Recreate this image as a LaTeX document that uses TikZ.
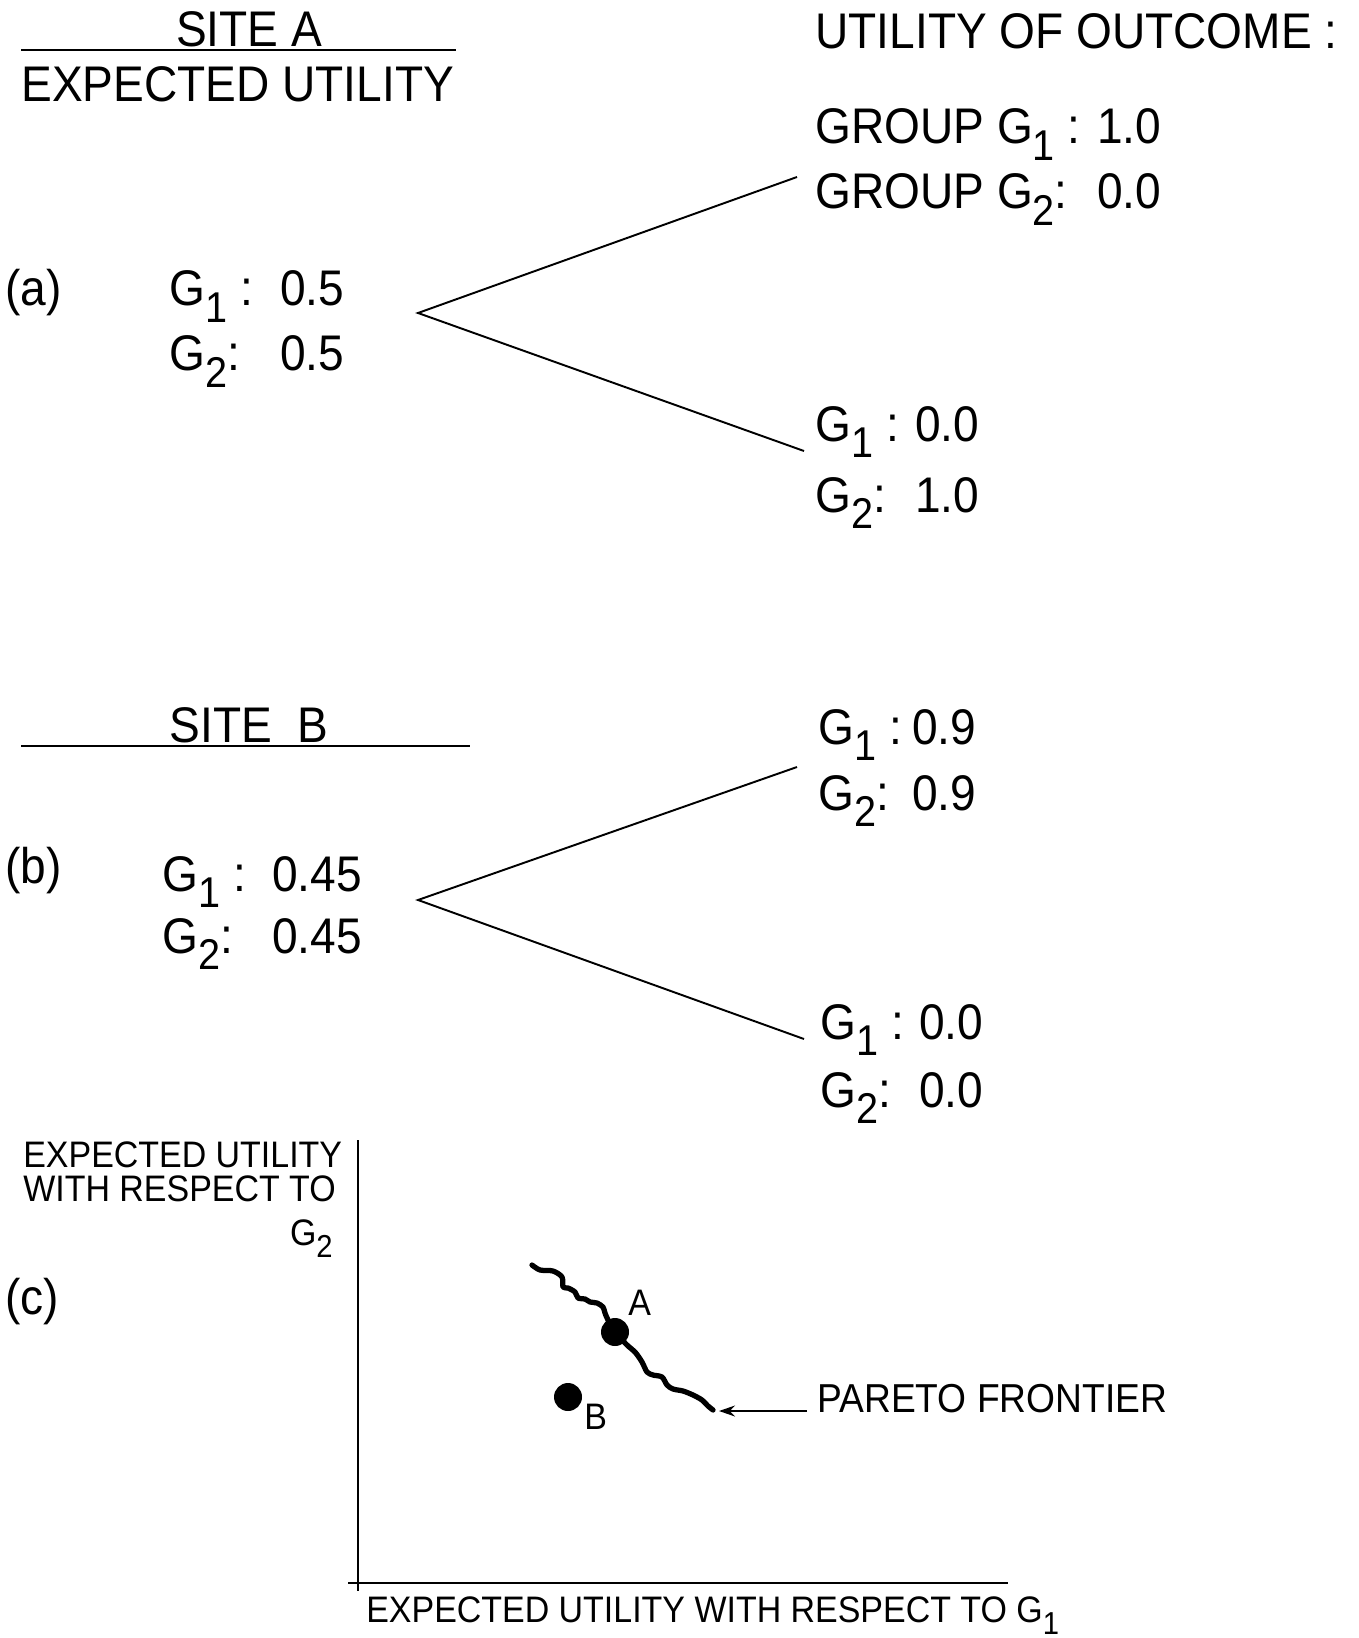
\documentclass[tikz,border=0pt]{standalone}
\usepackage{fontspec}
\setmainfont{Liberation Sans}[FakeStretch=0.92]
\usetikzlibrary{arrows.meta}
\newcommand{\grp}[1]{G\raisebox{-0.33em}{\scalebox{0.86}{#1}}}
\newcommand{\gcol}[3]{\makebox[#3][l]{\grp{#1}#2}}

\begin{document}
\begin{tikzpicture}[x=0.02cm,y=-0.02cm,
 big/.style={font=\fontsize{28.5}{34}\selectfont,anchor=base west,inner sep=0pt},
 small/.style={font=\fontsize{21}{25}\selectfont,anchor=base west,inner sep=0pt},
 mid/.style={font=\fontsize{23}{28}\selectfont,anchor=base west,inner sep=0pt},
 branch/.style={line width=1.1pt},
 rule/.style={line width=1.2pt},
 axis/.style={line width=1.6pt},
 frontier/.style={line width=3pt,line cap=round,line join=round},
 dot/.style={circle,fill=black,minimum size=0.56cm,inner sep=0pt}
]
\useasboundingbox (0,0) rectangle (1358,1638);

% site A
\node[big,anchor=base] (siteA) at (249,47) {SITE A};
\draw[rule] (21,50) -- (456,50);
\node[big] (euA) at (21,102) {EXPECTED UTILITY};
\node[big] (uo) at (815,49) {UTILITY OF OUTCOME :};
\node[big] (a) at (5,306) {(a)};
\node[big] (aG1) at (169,306) {\gcol{1}{\ :}{2.22cm}0.5};
\node[big] (aG2) at (169,371) {\gcol{2}{:}{2.22cm}0.5};
\node[big] (aUG1) at (815,144) {\makebox[5.64cm][l]{GROUP \grp{1}\ :}1.0};
\node[big] (aUG2) at (815,209) {\makebox[5.64cm][l]{GROUP \grp{2}:}0.0};
\node[big] (aLG1) at (815,441) {\gcol{1}{\ :}{2.0cm}0.0};
\node[big] (aLG2) at (815,512) {\gcol{2}{:}{2.0cm}1.0};

\coordinate (aroot) at (418,313);
\coordinate (aup) at (797,177);
\coordinate (adown) at (804,451);
\draw[branch] (aup) -- (aroot) -- (adown);

% site B
\node[big,anchor=base] (siteB) at (249,742) {SITE\ \ B};
\draw[rule] (21,746) -- (470,746);
\node[big] (b) at (5,883) {(b)};
\node[big] (bG1) at (162,891) {\gcol{1}{\ :}{2.2cm}0.45};
\node[big] (bG2) at (162,953) {\gcol{2}{:}{2.2cm}0.45};
\node[big] (bUG1) at (818,744) {\gcol{1}{\ :}{1.88cm}0.9};
\node[big] (bUG2) at (818,810) {\gcol{2}{:}{1.88cm}0.9};
\node[big] (bLG1) at (820,1039) {\gcol{1}{\ :}{1.98cm}0.0};
\node[big] (bLG2) at (820,1107) {\gcol{2}{:}{1.98cm}0.0};

\coordinate (broot) at (418,900);
\coordinate (bup) at (797,767);
\coordinate (bdown) at (804,1039);
\draw[branch] (bup) -- (broot) -- (bdown);

% (c) pareto plot
\node[big] (c) at (5,1314) {(c)};
\node[small] (ylab1) at (23,1167) {EXPECTED UTILITY};
\node[small] (ylab2) at (23,1201) {WITH RESPECT TO};
\node[small,anchor=base east] (ylab3) at (333,1245) {\grp{2}};
\node[small] (xlab) at (366,1622) {EXPECTED UTILITY WITH RESPECT TO \grp{1}};

\draw[axis] (358,1140) -- (358,1591);
\draw[axis] (348,1583) -- (1008,1583);

\draw[frontier] plot[smooth,tension=0.5] coordinates {(532,1265) (540,1270) (553,1271) (562,1277)
 (563,1287) (568,1288) (575,1292) (578,1298) (585,1299) (590,1302) (597,1303) (603,1307)
 (605,1313) (608,1320) (615,1332) (627,1345) (635,1352) (642,1362) (647,1372) (653,1375)
 (662,1377) (667,1385) (673,1389) (683,1391) (693,1395) (702,1400) (708,1406) (713,1410)};
\coordinate (fend) at (719,1411);

\node[dot] (ptA) at (615,1332) {};
\node[dot] (ptB) at (568,1397) {};
\node[small] (labA) at (628,1315) {A};
\node[small] (labB) at (584,1429) {B};

\node[mid] (pareto) at (817,1412) {PARETO FRONTIER};
\coordinate (pstart) at (807,1411);
\draw[line width=0.8pt,-{Stealth[length=3.2mm,width=2.2mm]}] (pstart) -- (fend);
\end{tikzpicture}
\end{document}
